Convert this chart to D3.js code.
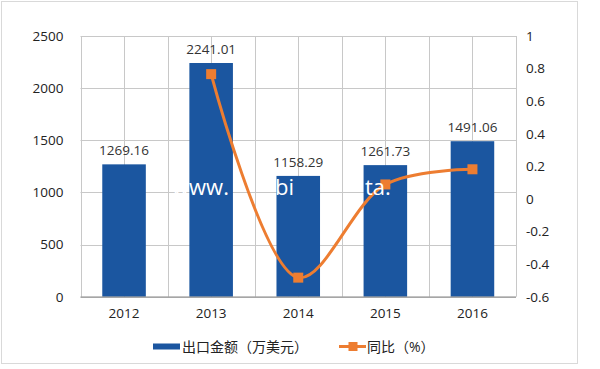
<!DOCTYPE html>
<html><head><meta charset="utf-8">
<script src="https://cdn.jsdelivr.net/npm/d3@7"></script>
<style>body{margin:0;background:#fff}svg{display:block}text{font-family:"Open Sans","Noto Sans CJK SC",sans-serif}</style>
</head><body>
<script>
const categories = ["2012","2013","2014","2015","2016"];
const exportValues = [1269.16, 2241.01, 1158.29, 1261.73, 1491.06];
const growthValues = [null, 0.766, -0.483, 0.089, 0.182];
const leftTicks = [0, 500, 1000, 1500, 2000, 2500];
const rightTicks = [-0.6, -0.4, -0.2, 0, 0.2, 0.4, 0.6, 0.8, 1];
const legendLabels = ["出口金额（万美元）", "同比（%）"];

const W = 600, H = 369;
const m = {left: 80.5, right: 516, top: 36, bottom: 296.7};
const blue = "#1B56A0", orange = "#ED7D31", grid = "#c8c8c8";

const svg = d3.select("body").append("svg").attr("width", W).attr("height", H);
svg.append("rect").attr("x",1.5).attr("y",1.5).attr("width",576).attr("height",362)
  .attr("fill","#fff").attr("stroke","#d9d9d9");

const x = d3.scaleBand().domain(categories).range([m.left, m.right]).paddingInner(0.5).paddingOuter(0.25);
const xc = d => x(d) + x.bandwidth()/2;
const yL = d3.scaleLinear().domain([0, 2500]).range([m.bottom, m.top]);
const yR = d3.scaleLinear().domain([-0.6, 1]).range([m.bottom, m.top]);

// horizontal gridlines
svg.append("g").selectAll("line").data(leftTicks.filter(d=>d>0)).join("line")
  .attr("x1", m.left).attr("x2", m.right).attr("y1", d=>Math.round(yL(d))+0.5).attr("y2", d=>Math.round(yL(d))+0.5)
  .attr("stroke", grid).attr("stroke-width",1);
// vertical gridlines: category boundaries and centers
const step = x.step();
const vgrid = d3.range(0, categories.length*2+1).map(i => m.left + i*step/2);
svg.append("g").selectAll("line").data(vgrid).join("line")
  .attr("x1", d=>Math.round(d)+0.5).attr("x2", d=>Math.round(d)+0.5).attr("y1", m.top).attr("y2", m.bottom)
  .attr("stroke", grid).attr("stroke-width",1);

// bars
svg.append("g").selectAll("rect").data(exportValues).join("rect")
  .attr("x", (d,i)=>x(categories[i])).attr("width", x.bandwidth())
  .attr("y", d=>yL(d)).attr("height", d=>yL(0)-yL(d)).attr("fill", blue);

// bar labels
svg.append("g").selectAll("text").data(exportValues).join("text")
  .attr("x", (d,i)=>xc(categories[i])).attr("y", d=>yL(d)-9)
  .attr("text-anchor","middle").attr("font-size",13.5).attr("fill","#333")
  .text(d=>d.toFixed(2));

// x axis line
svg.append("line").attr("x1", m.left).attr("x2", m.right).attr("y1", m.bottom+0.5).attr("y2", m.bottom+0.5)
  .attr("stroke","#888").attr("stroke-width",1.2);

// axes labels
const axL = d3.axisLeft(yL).tickValues(leftTicks).tickSize(0).tickPadding(17).tickFormat(d=>String(d));
const gL = svg.append("g").attr("transform",`translate(${m.left},0)`).call(axL);
gL.select(".domain").remove();
gL.selectAll("text").attr("font-size",13.5).attr("fill","#222").attr("font-family",'"Open Sans",sans-serif');

const axR = d3.axisRight(yR).tickValues(rightTicks).tickSize(0).tickPadding(10).tickFormat(d=>String(+d.toFixed(1)));
const gR = svg.append("g").attr("transform",`translate(${m.right},0)`).call(axR);
gR.select(".domain").remove();
gR.selectAll("text").attr("font-size",13.5).attr("fill","#222").attr("font-family",'"Open Sans",sans-serif');

const axB = d3.axisBottom(x).tickSize(0).tickPadding(12);
const gB = svg.append("g").attr("transform",`translate(0,${m.bottom})`).call(axB);
gB.select(".domain").remove();
gB.selectAll("text").attr("font-size",13.5).attr("fill","#222").attr("font-family",'"Open Sans",sans-serif');

// line
const pts = growthValues.map((v,i)=>({c:categories[i], v})).filter(d=>d.v!==null);
const line = d3.line().x(d=>xc(d.c)).y(d=>yR(d.v)).curve(d3.curveCatmullRom.alpha(0.5));
svg.append("path").datum(pts).attr("d", line).attr("fill","none").attr("stroke",orange).attr("stroke-width",3);
svg.append("g").selectAll("rect").data(pts).join("rect")
  .attr("x", d=>xc(d.c)-5).attr("y", d=>yR(d.v)-5).attr("width",10).attr("height",10).attr("fill",orange);

// watermark (white)
const wm = svg.append("text").attr("y",195).attr("font-size",22).attr("fill","#fff")
  .attr("font-family",'"Open Sans",sans-serif');
wm.append("tspan").attr("x",172).text("www.");
wm.append("tspan").attr("x",268).text("-bi");
wm.append("tspan").attr("x",365).text("ta.");

// legend
const lg = svg.append("g");
lg.append("rect").attr("x",153).attr("y",343.5).attr("width",27).attr("height",6).attr("fill",blue);
lg.append("text").attr("x",182).attr("y",351.5).attr("font-size",14).attr("fill","#222").text(legendLabels[0]);
lg.append("line").attr("x1",339).attr("x2",366).attr("y1",346.5).attr("y2",346.5).attr("stroke",orange).attr("stroke-width",3);
lg.append("rect").attr("x",348.5).attr("y",342).attr("width",9).attr("height",9).attr("fill",orange);
lg.append("text").attr("x",367).attr("y",351.5).attr("font-size",14).attr("fill","#222").text(legendLabels[1]);
</script>
</body></html>
